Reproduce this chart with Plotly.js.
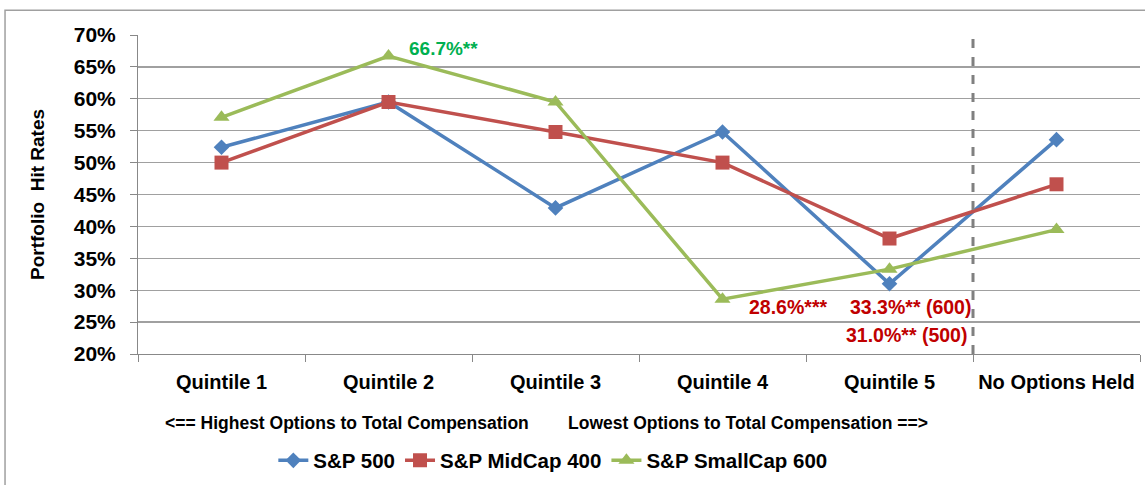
<!DOCTYPE html>
<html><head><meta charset="utf-8">
<script src="https://cdn.plot.ly/plotly-3.0.1.min.js"></script>
<style>html,body{margin:0;padding:0;background:#fff;}#chart{width:1145px;height:485px;}</style>
</head><body><div id="chart"></div>
<script>
const categories = ["Quintile 1", "Quintile 2", "Quintile 3", "Quintile 4", "Quintile 5", "No Options Held"];
const sp500 = [52.4, 59.5, 42.9, 54.8, 31.0, 53.6];
const midcap400 = [50.0, 59.5, 54.8, 50.0, 38.1, 46.6];
const smallcap600 = [57.1, 66.7, 59.5, 28.6, 33.3, 39.5];
const seriesNames = ["S&P 500", "S&P MidCap 400", "S&P SmallCap 600"];
const yTickVals = [20, 25, 30, 35, 40, 45, 50, 55, 60, 65, 70];
const yTickText = ["20%", "25%", "30%", "35%", "40%", "45%", "50%", "55%", "60%", "65%", "70%"];

const FONT = "'Liberation Sans Narrow', 'Liberation Sans', Arial, sans-serif";
const colors = ["#4F81BD", "#C0504D", "#9BBB59"];
const symbols = ["diamond", "square", "triangle-up"];
const sizes = [12, 14, 14];
const data = [sp500, midcap400, smallcap600].map((v, i) => ({
  type: "scatter", mode: "lines+markers", x: categories, y: v, name: seriesNames[i],
  line: {color: colors[i], width: 3.5},
  marker: {color: colors[i], symbol: symbols[i], size: sizes[i]}
}));

const layout = {
  width: 1145, height: 485,
  margin: {l: 138, r: 5, t: 35, b: 127},
  paper_bgcolor: "#fff", plot_bgcolor: "#fff",
  font: {family: FONT, color: "#000"},
  showlegend: true,
  legend: {orientation: "h", x: 0.414, xanchor: "center", y: -0.334, yanchor: "middle",
           font: {family: FONT, size: 20.5, color: "#000", weight: "bold"}, tracegroupgap: 0},
  xaxis: {type: "category", tickson: "boundaries", ticks: "outside", ticklen: 7, tickcolor: "#888", tickangle: 0,
          showline: true, linecolor: "#888", linewidth: 1, showgrid: false, ticklabelstandoff: 10,
          tickfont: {family: FONT, size: 20, weight: "bold", color: "#000"}, range: [-0.5, 5.5]},
  yaxis: {range: [20, 70], tickvals: yTickVals, ticktext: yTickText, ticks: "outside", ticklen: 7,
          tickcolor: "#888", showline: true, linecolor: "#888", linewidth: 1, ticklabelstandoff: 10,
          showgrid: true, gridcolor: "#A0A0A0", gridwidth: 1.3, zeroline: false,
          tickfont: {family: FONT, size: 21, weight: "bold", color: "#000"},
          title: {text: "Portfolio  Hit Rates", standoff: 24, font: {family: FONT, size: 19, weight: "bold", color: "#000"}}},
  shapes: [
    {type: "line", xref: "x", yref: "y", x0: 4.5, x1: 4.5, y0: 20, y1: 70, line: {color: "#808080", width: 3, dash: "dash"}},
    {type: "rect", xref: "paper", yref: "paper", x0: -0.1327, x1: 1.01, y0: -0.6, y1: 1.0774, line: {color: "#A0A0A0", width: 1.5}, layer: "below"}
  ],
  annotations: [
    {xref: "x", yref: "y", x: "Quintile 2", y: 66.7, text: "66.7%**", showarrow: false, xanchor: "left", yanchor: "middle", xshift: 18, yshift: 8,
     font: {family: FONT, size: 19, weight: "bold", color: "#00B050"}},
    {xref: "x", yref: "y", x: "Quintile 4", y: 28.6, text: "28.6%***", showarrow: false, xanchor: "left", yanchor: "middle", xshift: 24, yshift: -8,
     font: {family: FONT, size: 19.5, weight: "bold", color: "#C00000"}},
    {xref: "x", yref: "y", x: "Quintile 5", y: 28.6, text: "33.3%** (600)", showarrow: false, xanchor: "right", yanchor: "middle", xshift: 83, yshift: -8,
     font: {family: FONT, size: 19.5, weight: "bold", color: "#C00000"}},
    {xref: "x", yref: "y", x: "Quintile 5", y: 28.6, text: "31.0%** (500)", showarrow: false, xanchor: "right", yanchor: "middle", xshift: 79, yshift: -36,
     font: {family: FONT, size: 19.5, weight: "bold", color: "#C00000"}},
    {xref: "paper", yref: "paper", x: 0.2086, y: -0.217, text: "<== Highest Options to Total Compensation", showarrow: false, xanchor: "center", yanchor: "middle",
     font: {family: FONT, size: 17.5, weight: "bold", color: "#000"}},
    {xref: "paper", yref: "paper", x: 0.609, y: -0.217, text: "Lowest Options to Total Compensation ==>", showarrow: false, xanchor: "center", yanchor: "middle",
     font: {family: FONT, size: 17.5, weight: "bold", color: "#000"}}
  ]
};
Plotly.newPlot("chart", data, layout, {displayModeBar: false, staticPlot: true});
</script></body></html>
